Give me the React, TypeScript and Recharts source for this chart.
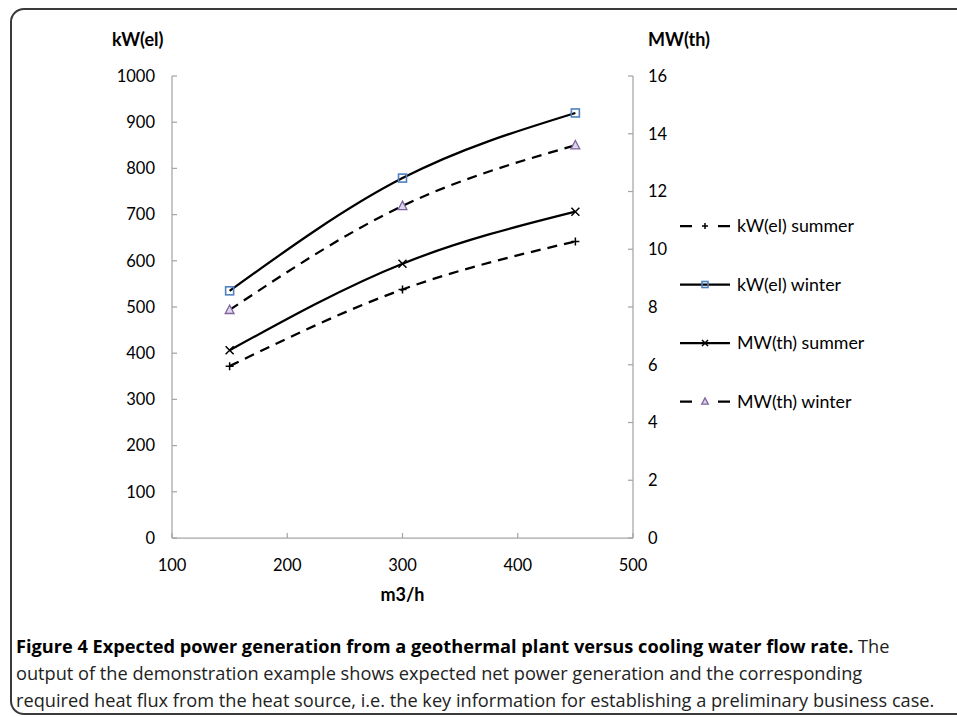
import React from "react";
import { LineChart, Line, XAxis, YAxis, Legend, Label } from "recharts";

// flow rate (m3/h) and the four series
const FLOW = [150, 300, 450];
const KW_SUMMER = [372, 538, 642];
const KW_WINTER = [535, 779, 920];
const MW_SUMMER = [6.5, 9.5, 11.3];
const MW_WINTER = [7.9, 11.5, 13.6];

const X_TICKS = [100, 200, 300, 400, 500];
const KW_TICKS = [0, 100, 200, 300, 400, 500, 600, 700, 800, 900, 1000];
const MW_TICKS = [0, 2, 4, 6, 8, 10, 12, 14, 16];

const SERIES_NAMES = ["kW(el) summer", "kW(el) winter", "MW(th) summer", "MW(th) winter"];

type Shape = "plus" | "square" | "cross" | "triangle";

const SERIES: { key: string; name: string; axis: string; dashed: boolean; shape: Shape }[] = [
  { key: "kwSummer", name: SERIES_NAMES[0], axis: "kw", dashed: true, shape: "plus" },
  { key: "kwWinter", name: SERIES_NAMES[1], axis: "kw", dashed: false, shape: "square" },
  { key: "mwSummer", name: SERIES_NAMES[2], axis: "mw", dashed: false, shape: "cross" },
  { key: "mwWinter", name: SERIES_NAMES[3], axis: "mw", dashed: true, shape: "triangle" },
];

const data = FLOW.map((flow, i) => ({
  flow,
  kwSummer: KW_SUMMER[i],
  kwWinter: KW_WINTER[i],
  mwSummer: MW_SUMMER[i],
  mwWinter: MW_WINTER[i],
}));

const AXIS_GRAY = "#a6a6a6";
const FONT = "Lato, 'Open Sans', sans-serif";

function Marker({ shape, cx, cy, r = 4 }: { shape: Shape; cx: number; cy: number; r?: number }) {
  if (cx == null || cy == null) return null;
  if (shape === "plus")
    return (
      <path
        d={`M${cx - r},${cy}H${cx + r}M${cx},${cy - r}V${cy + r}`}
        stroke="#000"
        strokeWidth={1.5}
      />
    );
  if (shape === "square")
    return (
      <rect
        x={cx - r}
        y={cy - r}
        width={r * 2}
        height={r * 2}
        fill="none"
        stroke="#4f81bd"
        strokeWidth={1.6}
      />
    );
  if (shape === "cross")
    return (
      <path
        d={`M${cx - r},${cy - r}L${cx + r},${cy + r}M${cx + r},${cy - r}L${cx - r},${cy + r}`}
        stroke="#000"
        strokeWidth={1.5}
      />
    );
  return (
    <path
      d={`M${cx},${cy - r * 1.2}L${cx + r * 1.1},${cy + r * 0.9}L${cx - r * 1.1},${cy + r * 0.9}Z`}
      fill="#ded6ea"
      stroke="#8064a2"
      strokeWidth={1.3}
    />
  );
}

const renderLegend = () => (
  <svg width={240} height={240}>
    {SERIES.map((s, i) => {
      const y = 16 + i * 58.5;
      return (
        <g key={s.key}>
          <line
            x1={0}
            x2={50}
            y1={y}
            y2={y}
            stroke="#000"
            strokeWidth={2.25}
            strokeDasharray={s.dashed ? "12 26" : undefined}
          />
          <Marker shape={s.shape} cx={25} cy={y} r={3} />
          <text x={57} y={y} dy="0.355em" fontSize={17.8} fontFamily={FONT} fill="#000">
            {s.name}
          </text>
        </g>
      );
    })}
  </svg>
);

const tickStyle = { fill: "#000", fontSize: 16.5, fontFamily: FONT };
const titleStyle = { fontSize: 18, fontWeight: 700, fontFamily: FONT, fill: "#000" };

export default function App() {
  return (
    <div
      style={{
        position: "fixed",
        left: 0,
        top: 0,
        width: 957,
        height: 717,
        overflow: "hidden",
        background: "#fff",
      }}
    >
      {/* figure frame, right edge runs off the page */}
      <div
        style={{
          position: "absolute",
          left: 10,
          top: 8,
          width: 980,
          height: 703,
          border: "2px solid #3a3a3a",
          borderRadius: 14,
        }}
      />
      <div style={{ position: "absolute", left: 0, top: 0 }}>
        <LineChart
          width={957}
          height={620}
          data={data}
          margin={{ top: 76, right: 264, bottom: 32, left: 112 }}
        >
          <XAxis
            dataKey="flow"
            type="number"
            domain={[100, 500]}
            ticks={X_TICKS}
            height={50}
            tickSize={-5}
            tickMargin={26}
            axisLine={{ stroke: AXIS_GRAY, strokeWidth: 1.25 }}
            tickLine={{ stroke: AXIS_GRAY, strokeWidth: 1.25 }}
            tick={tickStyle}
          >
            <Label
              content={(p: any) => (
                <text
                  x={p.viewBox.x + p.viewBox.width / 2}
                  y={p.viewBox.y + 57}
                  dy="0.355em"
                  textAnchor="middle"
                  style={titleStyle}
                >
                  m3/h
                </text>
              )}
            />
          </XAxis>
          <YAxis
            yAxisId="kw"
            orientation="left"
            width={60}
            domain={[0, 1000]}
            ticks={KW_TICKS}
            tickSize={-5}
            tickMargin={22}
            axisLine={{ stroke: AXIS_GRAY, strokeWidth: 1.25 }}
            tickLine={{ stroke: AXIS_GRAY, strokeWidth: 1.25 }}
            tick={tickStyle}
          >
            <Label
              content={(p: any) => (
                <text x={p.viewBox.x} y={p.viewBox.y - 36} dy="0.355em" style={titleStyle}>
                  kW(el)
                </text>
              )}
            />
          </YAxis>
          <YAxis
            yAxisId="mw"
            orientation="right"
            width={60}
            domain={[0, 16]}
            ticks={MW_TICKS}
            tickSize={-5}
            tickMargin={20}
            axisLine={{ stroke: AXIS_GRAY, strokeWidth: 1.25 }}
            tickLine={{ stroke: AXIS_GRAY, strokeWidth: 1.25 }}
            tick={tickStyle}
          >
            <Label
              content={(p: any) => (
                <text x={p.viewBox.x + 15} y={p.viewBox.y - 36} dy="0.355em" style={titleStyle}>
                  MW(th)
                </text>
              )}
            />
          </YAxis>
          <Legend
            layout="vertical"
            align="center"
            verticalAlign="middle"
            width={240}
            content={renderLegend}
            wrapperStyle={{ left: 680, top: 210, width: 240, height: 240 }}
          />
          {SERIES.map((s) => (
            <Line
              key={s.key}
              yAxisId={s.axis}
              dataKey={s.key}
              name={s.name}
              type="monotone"
              stroke="#000"
              strokeWidth={2.25}
              strokeDasharray={s.dashed ? "10 7" : undefined}
              dot={(p: any) => <Marker key={`${s.key}-${p.index}`} shape={s.shape} cx={p.cx} cy={p.cy} />}
              activeDot={false}
              isAnimationActive={false}
            />
          ))}
        </LineChart>
      </div>
      <div
        style={{
          position: "absolute",
          left: 16,
          top: 633,
          fontFamily: "'Open Sans', sans-serif",
          fontSize: 18.2,
          lineHeight: "27px",
          color: "#222",
          whiteSpace: "nowrap",
        }}
      >
        <b style={{ color: "#000" }}>
          Figure 4 Expected power generation from a geothermal plant versus cooling water flow rate.
        </b>{" "}
        The
        <br />
        output of the demonstration example shows expected net power generation and the corresponding
        <br />
        required heat flux from the heat source, i.e. the key information for establishing a preliminary
        business case.
      </div>
    </div>
  );
}
